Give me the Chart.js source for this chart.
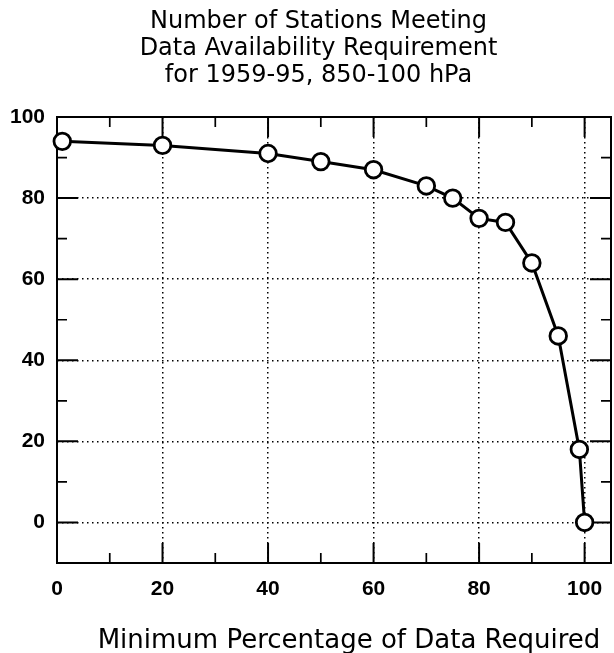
<!DOCTYPE html>
<html lang="en">
<head>
<meta charset="UTF-8" />
<title>Stations Meeting Data Availability Requirement</title>
<script src="https://cdn.jsdelivr.net/npm/chart.js"></script>
<style>
  html, body { margin: 0; background: #fff; }
  #wrap { position: relative; width: 614px; height: 653px; }
</style>
</head>
<body>
<div id="wrap"><canvas id="stations"></canvas></div>
<script>
// minimum percentage of data required -> number of stations that still qualify
const minPercent   = [1, 20, 40, 50, 60, 70, 75, 80, 85, 90, 95, 99, 100];
const stationCount = [94, 93, 91, 89, 87, 83, 80, 75, 74, 64, 46, 18, 0];

const xTicks = [0, 20, 40, 60, 80, 100];
const xMinor = [10, 30, 50, 70, 90];
const yTicks = [0, 20, 40, 60, 80, 100];
const yMinor = [10, 30, 50, 70, 90];

const titleLines = ['Number of Stations Meeting', 'Data Availability Requirement', 'for 1959-95, 850-100 hPa'];
const xTitle = 'Minimum Percentage of Data Required';

const FONT = '"DejaVu Sans", sans-serif';
const TICK_FONT = { family: '"Liberation Sans", Arial, sans-serif', size: 21, weight: 'bold' };

// boxed frame with inward tick marks on all four sides
const frameTicks = {
  id: 'frameTicks',
  beforeDatasetsDraw(chart) {
    const { ctx, chartArea: a, scales: { x, y } } = chart;
    ctx.save();
    ctx.strokeStyle = '#000';
    ctx.lineCap = 'butt';

    ctx.lineWidth = 2;
    ctx.strokeRect(a.left, a.top, a.right - a.left, a.bottom - a.top);

    const xMarks = (vals, len) => {
      vals.forEach(v => {
        const px = x.getPixelForValue(v);
        ctx.moveTo(px, a.bottom); ctx.lineTo(px, a.bottom - len);
        ctx.moveTo(px, a.top);    ctx.lineTo(px, a.top + len);
      });
    };
    const yMarks = (vals, len) => {
      vals.forEach(v => {
        const py = y.getPixelForValue(v);
        ctx.moveTo(a.left, py);  ctx.lineTo(a.left + len, py);
        ctx.moveTo(a.right, py); ctx.lineTo(a.right - len, py);
      });
    };

    ctx.beginPath();
    ctx.lineWidth = 2;
    xMarks(xTicks, 20);
    yMarks(yTicks, 21);
    ctx.stroke();

    ctx.beginPath();
    ctx.lineWidth = 1.7;
    xMarks(xMinor, 10);
    yMarks(yMinor, 10);
    ctx.stroke();
    ctx.restore();
  }
};

// three-line heading above the plot and the caption under the x axis
const captions = {
  id: 'captions',
  afterDraw(chart) {
    const { ctx, chartArea: a } = chart;
    const mid = (a.left + a.right) / 2;
    ctx.save();
    ctx.fillStyle = '#000';
    ctx.textAlign = 'center';
    ctx.textBaseline = 'alphabetic';

    ctx.font = '24px ' + FONT;
    titleLines.forEach((line, i) => ctx.fillText(line, mid - 15.5, 28 + i * 27));

    ctx.font = '26px ' + FONT;
    ctx.fillText(xTitle, mid + 15, chart.height - 5);
    ctx.restore();
  }
};

const dotted = {
  grid: { color: '#000', lineWidth: 1.5, drawTicks: false },
  border: { display: false, dash: [1.5, 3.5] }
};

new Chart(document.getElementById('stations'), {
  type: 'line',
  data: {
    datasets: [{
      data: minPercent.map((p, i) => ({ x: p, y: stationCount[i] })),
      borderColor: '#000',
      borderWidth: 3,
      tension: 0,
      pointRadius: 8.3,
      pointBorderWidth: 2.8,
      pointBackgroundColor: '#fff',
      pointBorderColor: '#000',
      clip: false
    }]
  },
  options: {
    responsive: true,
    maintainAspectRatio: false,
    animation: false,
    layout: { autoPadding: false, padding: { left: 0, right: 3, top: 117, bottom: 0 } },
    plugins: {
      legend: { display: false },
      tooltip: { enabled: false },
      title: { display: false }
    },
    scales: {
      x: {
        type: 'linear',
        min: 0,
        max: 105,
        afterBuildTicks: s => { s.ticks = xTicks.map(v => ({ value: v })); },
        afterFit: s => { s.height = 90; s.paddingLeft = 0; s.paddingRight = 0; },
        ticks: { color: '#000', font: TICK_FONT, padding: 14, maxRotation: 0 },
        ...dotted
      },
      y: {
        type: 'linear',
        min: -10,
        max: 100,
        afterBuildTicks: s => { s.ticks = yTicks.map(v => ({ value: v })); },
        afterFit: s => { s.width = 57; s.paddingTop = 0; s.paddingBottom = 0; },
        ticks: { color: '#000', font: TICK_FONT, padding: 12 },
        ...dotted
      }
    }
  },
  plugins: [frameTicks, captions]
});
</script>
</body>
</html>
